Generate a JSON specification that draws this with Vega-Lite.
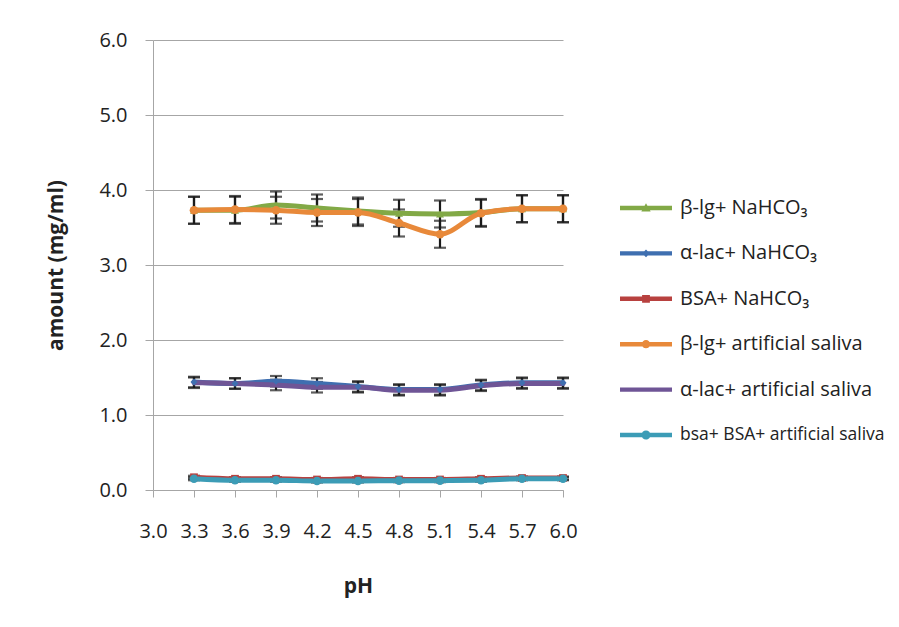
{
  "$schema": "https://vega.github.io/schema/vega-lite/v6.json",
  "width": 410,
  "height": 450,
  "autosize": {"type": "none"},
  "padding": {"left": 153, "top": 40, "right": 336, "bottom": 137},
  "background": "white",
  "config": {
    "view": {"stroke": null},
    "font": "Open Sans",
    "axis": {
      "domainColor": "#A6A6A6",
      "tickColor": "#A6A6A6",
      "gridColor": "#A6A6A6",
      "labelFont": "Open Sans",
      "labelFontSize": 20,
      "labelColor": "#222222",
      "titleFont": "Open Sans",
      "titleFontSize": 21,
      "titleFontWeight": "bold",
      "titleColor": "#222222"
    },
    "legend": {
      "labelFont": "Open Sans",
      "labelFontSize": 20,
      "labelColor": "#222222",
      "labelOffset": 8,
      "labelLimit": 400,
      "symbolSize": 676,
      "rowPadding": 22.4,
      "symbolStrokeWidth": 0,
      "symbolOpacity": 1,
      "padding": 0
    }
  },
  "datasets": {
    "rows": [
      {"p": 3.3, "s": "β-lg+ NaHCO₃", "v": 3.73, "e": 0.18},
      {"p": 3.6, "s": "β-lg+ NaHCO₃", "v": 3.73, "e": 0.18},
      {"p": 3.9, "s": "β-lg+ NaHCO₃", "v": 3.80, "e": 0.18},
      {"p": 4.2, "s": "β-lg+ NaHCO₃", "v": 3.76, "e": 0.18},
      {"p": 4.5, "s": "β-lg+ NaHCO₃", "v": 3.72, "e": 0.18},
      {"p": 4.8, "s": "β-lg+ NaHCO₃", "v": 3.69, "e": 0.18},
      {"p": 5.1, "s": "β-lg+ NaHCO₃", "v": 3.68, "e": 0.18},
      {"p": 5.4, "s": "β-lg+ NaHCO₃", "v": 3.70, "e": 0.18},
      {"p": 5.7, "s": "β-lg+ NaHCO₃", "v": 3.75, "e": 0.18},
      {"p": 6.0, "s": "β-lg+ NaHCO₃", "v": 3.75, "e": 0.18},
      {"p": 3.3, "s": "α-lac+ NaHCO₃", "v": 1.44, "e": 0.07},
      {"p": 3.6, "s": "α-lac+ NaHCO₃", "v": 1.42, "e": 0.07},
      {"p": 3.9, "s": "α-lac+ NaHCO₃", "v": 1.45, "e": 0.07},
      {"p": 4.2, "s": "α-lac+ NaHCO₃", "v": 1.42, "e": 0.07},
      {"p": 4.5, "s": "α-lac+ NaHCO₃", "v": 1.38, "e": 0.07},
      {"p": 4.8, "s": "α-lac+ NaHCO₃", "v": 1.34, "e": 0.07},
      {"p": 5.1, "s": "α-lac+ NaHCO₃", "v": 1.34, "e": 0.07},
      {"p": 5.4, "s": "α-lac+ NaHCO₃", "v": 1.40, "e": 0.07},
      {"p": 5.7, "s": "α-lac+ NaHCO₃", "v": 1.43, "e": 0.07},
      {"p": 6.0, "s": "α-lac+ NaHCO₃", "v": 1.43, "e": 0.07},
      {"p": 3.3, "s": "BSA+ NaHCO₃", "v": 0.17, "e": 0.02},
      {"p": 3.6, "s": "BSA+ NaHCO₃", "v": 0.15, "e": 0.02},
      {"p": 3.9, "s": "BSA+ NaHCO₃", "v": 0.15, "e": 0.02},
      {"p": 4.2, "s": "BSA+ NaHCO₃", "v": 0.14, "e": 0.02},
      {"p": 4.5, "s": "BSA+ NaHCO₃", "v": 0.15, "e": 0.02},
      {"p": 4.8, "s": "BSA+ NaHCO₃", "v": 0.14, "e": 0.02},
      {"p": 5.1, "s": "BSA+ NaHCO₃", "v": 0.14, "e": 0.02},
      {"p": 5.4, "s": "BSA+ NaHCO₃", "v": 0.15, "e": 0.02},
      {"p": 5.7, "s": "BSA+ NaHCO₃", "v": 0.16, "e": 0.02},
      {"p": 6.0, "s": "BSA+ NaHCO₃", "v": 0.16, "e": 0.02},
      {"p": 3.3, "s": "β-lg+ artificial saliva", "v": 3.73, "e": 0.18},
      {"p": 3.6, "s": "β-lg+ artificial saliva", "v": 3.74, "e": 0.18},
      {"p": 3.9, "s": "β-lg+ artificial saliva", "v": 3.73, "e": 0.18},
      {"p": 4.2, "s": "β-lg+ artificial saliva", "v": 3.70, "e": 0.18},
      {"p": 4.5, "s": "β-lg+ artificial saliva", "v": 3.70, "e": 0.18},
      {"p": 4.8, "s": "β-lg+ artificial saliva", "v": 3.56, "e": 0.18},
      {"p": 5.1, "s": "β-lg+ artificial saliva", "v": 3.41, "e": 0.18},
      {"p": 5.4, "s": "β-lg+ artificial saliva", "v": 3.69, "e": 0.18},
      {"p": 5.7, "s": "β-lg+ artificial saliva", "v": 3.75, "e": 0.18},
      {"p": 6.0, "s": "β-lg+ artificial saliva", "v": 3.75, "e": 0.18},
      {"p": 3.3, "s": "α-lac+ artificial saliva", "v": 1.43, "e": 0.07},
      {"p": 3.6, "s": "α-lac+ artificial saliva", "v": 1.42, "e": 0.07},
      {"p": 3.9, "s": "α-lac+ artificial saliva", "v": 1.40, "e": 0.07},
      {"p": 4.2, "s": "α-lac+ artificial saliva", "v": 1.37, "e": 0.07},
      {"p": 4.5, "s": "α-lac+ artificial saliva", "v": 1.37, "e": 0.07},
      {"p": 4.8, "s": "α-lac+ artificial saliva", "v": 1.33, "e": 0.07},
      {"p": 5.1, "s": "α-lac+ artificial saliva", "v": 1.33, "e": 0.07},
      {"p": 5.4, "s": "α-lac+ artificial saliva", "v": 1.39, "e": 0.07},
      {"p": 5.7, "s": "α-lac+ artificial saliva", "v": 1.42, "e": 0.07},
      {"p": 6.0, "s": "α-lac+ artificial saliva", "v": 1.42, "e": 0.07},
      {"p": 3.3, "s": "bsa+ BSA+ artificial saliva", "v": 0.15, "e": 0.02},
      {"p": 3.6, "s": "bsa+ BSA+ artificial saliva", "v": 0.13, "e": 0.02},
      {"p": 3.9, "s": "bsa+ BSA+ artificial saliva", "v": 0.13, "e": 0.02},
      {"p": 4.2, "s": "bsa+ BSA+ artificial saliva", "v": 0.12, "e": 0.02},
      {"p": 4.5, "s": "bsa+ BSA+ artificial saliva", "v": 0.12, "e": 0.02},
      {"p": 4.8, "s": "bsa+ BSA+ artificial saliva", "v": 0.125, "e": 0.02},
      {"p": 5.1, "s": "bsa+ BSA+ artificial saliva", "v": 0.125, "e": 0.02},
      {"p": 5.4, "s": "bsa+ BSA+ artificial saliva", "v": 0.13, "e": 0.02},
      {"p": 5.7, "s": "bsa+ BSA+ artificial saliva", "v": 0.15, "e": 0.02},
      {"p": 6.0, "s": "bsa+ BSA+ artificial saliva", "v": 0.15, "e": 0.02}
    ]
  },
  "data": {"name": "rows"},
  "encoding": {
    "x": {
      "field": "p",
      "type": "quantitative",
      "scale": {"domain": [3, 6], "nice": false, "zero": false},
      "axis": {
        "title": "pH",
        "values": [3.0, 3.3, 3.6, 3.9, 4.2, 4.5, 4.8, 5.1, 5.4, 5.7, 6.0],
        "format": ".1f",
        "grid": false,
        "tickSize": 7,
        "labelPadding": 24,
        "titlePadding": 34,
        "labelFlush": false,
        "labelOverlap": false
      }
    },
    "y": {
      "field": "v",
      "type": "quantitative",
      "scale": {"domain": [0, 6], "nice": false},
      "axis": {
        "title": "amount (mg/ml)",
        "values": [0, 1, 2, 3, 4, 5, 6],
        "format": ".1f",
        "grid": true,
        "tickSize": 8,
        "labelPadding": 18,
        "titlePadding": 32
      }
    }
  },
  "layer": [
    {
      "mark": {
        "type": "errorbar",
        "ticks": {"size": 12, "thickness": 2.2, "color": "#1a1a1a"},
        "rule": {"strokeWidth": 2.2, "color": "#1a1a1a"}
      },
      "encoding": {
        "yError": {"field": "e"}
      }
    },
    {
      "mark": {"type": "line", "strokeWidth": 5, "interpolate": "monotone", "strokeCap": "round", "strokeJoin": "round"},
      "encoding": {
        "stroke": {
          "field": "s", "type": "nominal", "legend": null,
          "scale": {
            "domain": ["bsa+ BSA+ artificial saliva", "α-lac+ artificial saliva", "β-lg+ artificial saliva", "BSA+ NaHCO₃", "α-lac+ NaHCO₃", "β-lg+ NaHCO₃"],
            "range": ["#3C9CB6", "#6F5596", "#E8893A", "#B8413F", "#3F6FB0", "#82A946"]
          }
        }
      }
    },
    {
      "transform": [{"filter": "datum.s === 'β-lg+ NaHCO₃'"}],
      "mark": {"type": "point", "shape": "triangle-up", "filled": true, "size": 64, "opacity": 1},
      "encoding": {"fill": {"field": "s", "type": "nominal", "legend": null,
        "scale": {
            "domain": ["bsa+ BSA+ artificial saliva", "α-lac+ artificial saliva", "β-lg+ artificial saliva", "BSA+ NaHCO₃", "α-lac+ NaHCO₃", "β-lg+ NaHCO₃", "x"],
            "range": ["#3C9CB6", "#6F5596", "#E8893A", "#B8413F", "#3F6FB0", "#82A946", "#000000"]
          }}}
    },
    {
      "transform": [{"filter": "datum.s === 'α-lac+ NaHCO₃'"}],
      "mark": {"type": "point", "shape": "diamond", "filled": true, "size": 50, "opacity": 1},
      "encoding": {"fill": {"field": "s", "type": "nominal", "legend": null}}
    },
    {
      "transform": [{"filter": "datum.s === 'BSA+ NaHCO₃'"}],
      "mark": {"type": "point", "shape": "square", "filled": true, "size": 60, "opacity": 1},
      "encoding": {"fill": {"field": "s", "type": "nominal", "legend": null}}
    },
    {
      "transform": [{"filter": "datum.s === 'β-lg+ artificial saliva' || datum.s === 'bsa+ BSA+ artificial saliva'"}],
      "mark": {"type": "point", "shape": "circle", "filled": true, "size": 75, "opacity": 1},
      "encoding": {"fill": {"field": "s", "type": "nominal", "legend": null}}
    },
    {
      "transform": [{"filter": "datum.p > 100"}],
      "mark": {"type": "point", "filled": true, "opacity": 1},
      "encoding": {
        "color": {
          "field": "s", "type": "nominal",
          "scale": {
            "domain": ["β-lg+ NaHCO₃", "α-lac+ NaHCO₃", "BSA+ NaHCO₃", "β-lg+ artificial saliva", "α-lac+ artificial saliva", "bsa+ BSA+ artificial saliva"],
            "range": ["#82A946", "#3F6FB0", "#B8413F", "#E8893A", "#6F5596", "#3C9CB6"]
          },
          "legend": {
            "title": null, "orient": "none", "legendX": 493, "legendY": 155,
            "encode": {"labels": {"update": {"fontSize": {"signal": "datum.value === 'bsa+ BSA+ artificial saliva' ? 17.5 : 20"}}}}
          }
        },
        "shape": {
          "field": "s", "type": "nominal",
          "scale": {
            "domain": ["β-lg+ NaHCO₃", "α-lac+ NaHCO₃", "BSA+ NaHCO₃", "β-lg+ artificial saliva", "α-lac+ artificial saliva", "bsa+ BSA+ artificial saliva"],
            "range": [
              "M-3,-0.17H1V0.17H-3Z M-1,-0.36L-0.64,0.26H-1.36Z",
              "M-3,-0.17H1V0.17H-3Z M-1,-0.3L-0.7,0L-1,0.3L-1.3,0Z",
              "M-3,-0.17H1V0.17H-3Z M-1.3,-0.3H-0.7V0.3H-1.3Z",
              "M-3,-0.17H1V0.17H-3Z M-1.32,0A0.32,0.32,0,1,1,-0.68,0A0.32,0.32,0,1,1,-1.32,0Z",
              "M-3,-0.17H1V0.17H-3Z",
              "M-3,-0.17H1V0.17H-3Z M-1.35,0A0.35,0.35,0,1,1,-0.65,0A0.35,0.35,0,1,1,-1.35,0Z"
            ]
          },
          "legend": {"title": null, "orient": "none", "legendX": 493, "legendY": 155}
        }
      }
    }
  ]
}
